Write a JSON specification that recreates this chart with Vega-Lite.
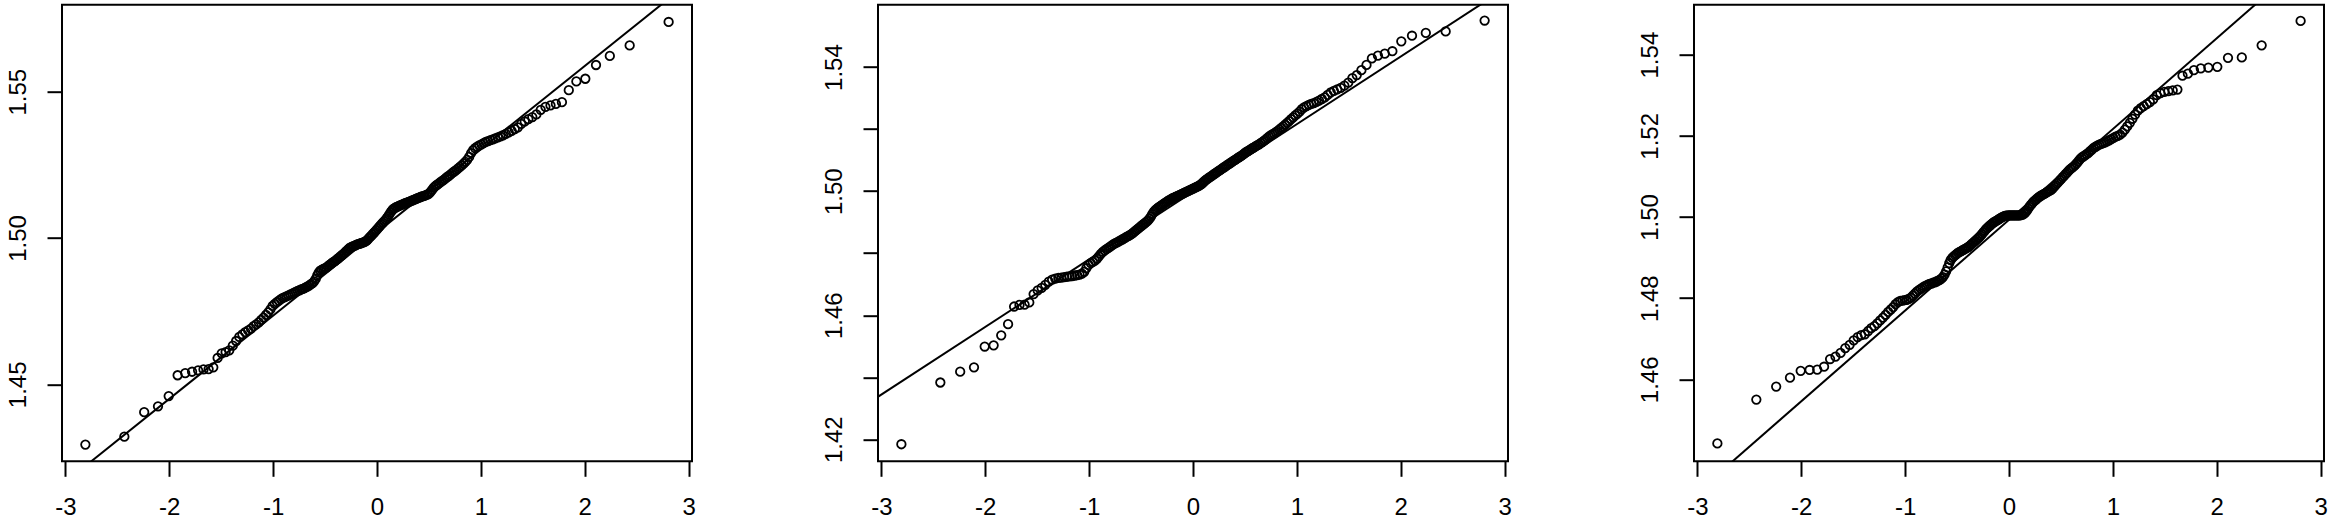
{
"$schema":"https://vega.github.io/schema/vega-lite/v6.json",
"background":"white",
"padding":{"left":5,"top":3.7,"right":0,"bottom":0},
"spacing":186,
"bounds":"flush",
"config":{
"view":{"stroke":"black","strokeWidth":2},
"axis":{"grid":false,"domain":false,"ticks":true,"tickColor":"black","tickWidth":2,"tickSize":15,"labelFont":"Liberation Sans","labelFontSize":24,"labelColor":"black","labelOverlap":false,"labelFlush":false,"labelBound":false,"title":null}
},
"datasets":{
"la":[{"x":-3.2,"y":1.4109},{"x":3.2,"y":1.5929}],
"lb":[{"x":-3.2,"y":1.43004},{"x":3.2,"y":1.56956}],
"lc":[{"x":-3.2,"y":1.42772},{"x":3.2,"y":1.57088}],
"a":[
{"x":-2.807,"y":1.4294},{"x":-2.432,"y":1.4321},{"x":-2.241,"y":1.4405},{"x":-2.108,"y":1.4425},{"x":-2.005,"y":1.4460},{"x":-1.919,"y":1.4531},{"x":-1.846,"y":1.4538},{"x":-1.780,"y":1.4543},{"x":-1.722,"y":1.4548},{"x":-1.670,"y":1.4551},
{"x":-1.621,"y":1.4552},{"x":-1.576,"y":1.4558},{"x":-1.534,"y":1.4590},{"x":-1.495,"y":1.4606},{"x":-1.457,"y":1.4610},{"x":-1.422,"y":1.4616},{"x":-1.388,"y":1.4632},{"x":-1.356,"y":1.4648},{"x":-1.326,"y":1.4662},{"x":-1.296,"y":1.4671},
{"x":-1.268,"y":1.4678},{"x":-1.240,"y":1.4684},{"x":-1.213,"y":1.4690},{"x":-1.188,"y":1.4699},{"x":-1.163,"y":1.4705},{"x":-1.138,"y":1.4712},{"x":-1.115,"y":1.4720},{"x":-1.092,"y":1.4728},{"x":-1.069,"y":1.4737},{"x":-1.047,"y":1.4746},
{"x":-1.026,"y":1.4756},{"x":-1.005,"y":1.4768},{"x":-0.984,"y":1.4775},{"x":-0.964,"y":1.4781},{"x":-0.944,"y":1.4786},{"x":-0.925,"y":1.4791},{"x":-0.906,"y":1.4795},{"x":-0.887,"y":1.4798},{"x":-0.868,"y":1.4801},{"x":-0.850,"y":1.4804},
{"x":-0.833,"y":1.4807},{"x":-0.815,"y":1.4810},{"x":-0.798,"y":1.4813},{"x":-0.781,"y":1.4816},{"x":-0.764,"y":1.4819},{"x":-0.747,"y":1.4821},{"x":-0.731,"y":1.4824},{"x":-0.714,"y":1.4826},{"x":-0.698,"y":1.4829},{"x":-0.682,"y":1.4832},
{"x":-0.667,"y":1.4835},{"x":-0.651,"y":1.4838},{"x":-0.636,"y":1.4842},{"x":-0.620,"y":1.4846},{"x":-0.605,"y":1.4852},{"x":-0.590,"y":1.4860},{"x":-0.575,"y":1.4872},{"x":-0.561,"y":1.4882},{"x":-0.546,"y":1.4888},{"x":-0.532,"y":1.4891},
{"x":-0.517,"y":1.4894},{"x":-0.503,"y":1.4896},{"x":-0.489,"y":1.4899},{"x":-0.474,"y":1.4903},{"x":-0.460,"y":1.4907},{"x":-0.446,"y":1.4911},{"x":-0.432,"y":1.4915},{"x":-0.419,"y":1.4918},{"x":-0.405,"y":1.4921},{"x":-0.392,"y":1.4925},
{"x":-0.378,"y":1.4929},{"x":-0.365,"y":1.4933},{"x":-0.352,"y":1.4937},{"x":-0.338,"y":1.4941},{"x":-0.325,"y":1.4945},{"x":-0.312,"y":1.4949},{"x":-0.299,"y":1.4954},{"x":-0.286,"y":1.4958},{"x":-0.273,"y":1.4963},{"x":-0.260,"y":1.4967},
{"x":-0.247,"y":1.4969},{"x":-0.234,"y":1.4971},{"x":-0.221,"y":1.4973},{"x":-0.208,"y":1.4975},{"x":-0.196,"y":1.4977},{"x":-0.183,"y":1.4979},{"x":-0.170,"y":1.4980},{"x":-0.157,"y":1.4982},{"x":-0.145,"y":1.4983},{"x":-0.132,"y":1.4985},
{"x":-0.119,"y":1.4987},{"x":-0.107,"y":1.4989},{"x":-0.094,"y":1.4993},{"x":-0.082,"y":1.4998},{"x":-0.069,"y":1.5003},{"x":-0.056,"y":1.5007},{"x":-0.044,"y":1.5012},{"x":-0.031,"y":1.5017},{"x":-0.019,"y":1.5022},{"x":-0.006,"y":1.5027},
{"x":0.006,"y":1.5032},{"x":0.019,"y":1.5037},{"x":0.031,"y":1.5042},{"x":0.044,"y":1.5047},{"x":0.056,"y":1.5052},{"x":0.069,"y":1.5057},{"x":0.082,"y":1.5062},{"x":0.094,"y":1.5068},{"x":0.107,"y":1.5074},{"x":0.119,"y":1.5081},
{"x":0.132,"y":1.5088},{"x":0.145,"y":1.5094},{"x":0.157,"y":1.5099},{"x":0.170,"y":1.5102},{"x":0.183,"y":1.5105},{"x":0.196,"y":1.5107},{"x":0.208,"y":1.5109},{"x":0.221,"y":1.5111},{"x":0.234,"y":1.5113},{"x":0.247,"y":1.5115},
{"x":0.260,"y":1.5117},{"x":0.273,"y":1.5119},{"x":0.286,"y":1.5121},{"x":0.299,"y":1.5122},{"x":0.312,"y":1.5124},{"x":0.325,"y":1.5126},{"x":0.338,"y":1.5128},{"x":0.352,"y":1.5130},{"x":0.365,"y":1.5132},{"x":0.378,"y":1.5134},
{"x":0.392,"y":1.5136},{"x":0.405,"y":1.5138},{"x":0.419,"y":1.5140},{"x":0.432,"y":1.5142},{"x":0.446,"y":1.5143},{"x":0.460,"y":1.5145},{"x":0.474,"y":1.5147},{"x":0.489,"y":1.5149},{"x":0.503,"y":1.5152},{"x":0.517,"y":1.5158},
{"x":0.532,"y":1.5165},{"x":0.546,"y":1.5172},{"x":0.561,"y":1.5177},{"x":0.575,"y":1.5181},{"x":0.590,"y":1.5185},{"x":0.605,"y":1.5189},{"x":0.620,"y":1.5193},{"x":0.636,"y":1.5197},{"x":0.651,"y":1.5201},{"x":0.667,"y":1.5206},
{"x":0.682,"y":1.5210},{"x":0.698,"y":1.5214},{"x":0.714,"y":1.5219},{"x":0.731,"y":1.5224},{"x":0.747,"y":1.5228},{"x":0.764,"y":1.5233},{"x":0.781,"y":1.5238},{"x":0.798,"y":1.5243},{"x":0.815,"y":1.5248},{"x":0.833,"y":1.5254},
{"x":0.850,"y":1.5260},{"x":0.868,"y":1.5267},{"x":0.887,"y":1.5277},{"x":0.906,"y":1.5290},{"x":0.925,"y":1.5300},{"x":0.944,"y":1.5307},{"x":0.964,"y":1.5312},{"x":0.984,"y":1.5316},{"x":1.005,"y":1.5320},{"x":1.026,"y":1.5324},
{"x":1.047,"y":1.5328},{"x":1.069,"y":1.5331},{"x":1.092,"y":1.5334},{"x":1.115,"y":1.5337},{"x":1.138,"y":1.5340},{"x":1.163,"y":1.5344},{"x":1.188,"y":1.5347},{"x":1.213,"y":1.5351},{"x":1.240,"y":1.5356},{"x":1.268,"y":1.5361},
{"x":1.296,"y":1.5366},{"x":1.326,"y":1.5372},{"x":1.356,"y":1.5378},{"x":1.388,"y":1.5390},{"x":1.422,"y":1.5398},{"x":1.457,"y":1.5406},{"x":1.495,"y":1.5413},{"x":1.534,"y":1.5422},{"x":1.576,"y":1.5438},{"x":1.621,"y":1.5448},
{"x":1.670,"y":1.5453},{"x":1.722,"y":1.5458},{"x":1.780,"y":1.5464},{"x":1.846,"y":1.5505},{"x":1.919,"y":1.5535},{"x":2.005,"y":1.5544},{"x":2.108,"y":1.5591},{"x":2.241,"y":1.5622},{"x":2.432,"y":1.5658},{"x":2.807,"y":1.5738}
],
"b":[
{"x":-2.807,"y":1.4184},{"x":-2.432,"y":1.4383},{"x":-2.241,"y":1.4418},{"x":-2.108,"y":1.4432},{"x":-2.005,"y":1.4499},{"x":-1.919,"y":1.4503},{"x":-1.846,"y":1.4535},{"x":-1.780,"y":1.4571},{"x":-1.722,"y":1.4628},{"x":-1.670,"y":1.4633},
{"x":-1.621,"y":1.4634},{"x":-1.576,"y":1.4641},{"x":-1.534,"y":1.4668},{"x":-1.495,"y":1.4680},{"x":-1.457,"y":1.4688},{"x":-1.422,"y":1.4698},{"x":-1.388,"y":1.4708},{"x":-1.356,"y":1.4715},{"x":-1.326,"y":1.4718},{"x":-1.296,"y":1.4720},
{"x":-1.268,"y":1.4721},{"x":-1.240,"y":1.4723},{"x":-1.213,"y":1.4724},{"x":-1.188,"y":1.4725},{"x":-1.163,"y":1.4726},{"x":-1.138,"y":1.4728},{"x":-1.115,"y":1.4729},{"x":-1.092,"y":1.4731},{"x":-1.069,"y":1.4734},{"x":-1.047,"y":1.4740},
{"x":-1.026,"y":1.4752},{"x":-1.005,"y":1.4762},{"x":-0.984,"y":1.4768},{"x":-0.964,"y":1.4772},{"x":-0.944,"y":1.4776},{"x":-0.925,"y":1.4782},{"x":-0.906,"y":1.4790},{"x":-0.887,"y":1.4798},{"x":-0.868,"y":1.4804},{"x":-0.850,"y":1.4809},
{"x":-0.833,"y":1.4813},{"x":-0.815,"y":1.4817},{"x":-0.798,"y":1.4821},{"x":-0.781,"y":1.4825},{"x":-0.764,"y":1.4829},{"x":-0.747,"y":1.4832},{"x":-0.731,"y":1.4835},{"x":-0.714,"y":1.4838},{"x":-0.698,"y":1.4841},{"x":-0.682,"y":1.4844},
{"x":-0.667,"y":1.4847},{"x":-0.651,"y":1.4850},{"x":-0.636,"y":1.4853},{"x":-0.620,"y":1.4856},{"x":-0.605,"y":1.4859},{"x":-0.590,"y":1.4862},{"x":-0.575,"y":1.4866},{"x":-0.561,"y":1.4870},{"x":-0.546,"y":1.4874},{"x":-0.532,"y":1.4878},
{"x":-0.517,"y":1.4882},{"x":-0.503,"y":1.4886},{"x":-0.489,"y":1.4890},{"x":-0.474,"y":1.4894},{"x":-0.460,"y":1.4898},{"x":-0.446,"y":1.4902},{"x":-0.432,"y":1.4906},{"x":-0.419,"y":1.4911},{"x":-0.405,"y":1.4918},{"x":-0.392,"y":1.4926},
{"x":-0.378,"y":1.4933},{"x":-0.365,"y":1.4938},{"x":-0.352,"y":1.4942},{"x":-0.338,"y":1.4946},{"x":-0.325,"y":1.4949},{"x":-0.312,"y":1.4952},{"x":-0.299,"y":1.4955},{"x":-0.286,"y":1.4958},{"x":-0.273,"y":1.4961},{"x":-0.260,"y":1.4964},
{"x":-0.247,"y":1.4967},{"x":-0.234,"y":1.4970},{"x":-0.221,"y":1.4972},{"x":-0.208,"y":1.4975},{"x":-0.196,"y":1.4977},{"x":-0.183,"y":1.4979},{"x":-0.170,"y":1.4981},{"x":-0.157,"y":1.4983},{"x":-0.145,"y":1.4985},{"x":-0.132,"y":1.4987},
{"x":-0.119,"y":1.4989},{"x":-0.107,"y":1.4991},{"x":-0.094,"y":1.4993},{"x":-0.082,"y":1.4995},{"x":-0.069,"y":1.4997},{"x":-0.056,"y":1.4999},{"x":-0.044,"y":1.5001},{"x":-0.031,"y":1.5003},{"x":-0.019,"y":1.5005},{"x":-0.006,"y":1.5007},
{"x":0.006,"y":1.5009},{"x":0.019,"y":1.5011},{"x":0.031,"y":1.5013},{"x":0.044,"y":1.5015},{"x":0.056,"y":1.5017},{"x":0.069,"y":1.5020},{"x":0.082,"y":1.5023},{"x":0.094,"y":1.5027},{"x":0.107,"y":1.5031},{"x":0.119,"y":1.5035},
{"x":0.132,"y":1.5038},{"x":0.145,"y":1.5041},{"x":0.157,"y":1.5044},{"x":0.170,"y":1.5047},{"x":0.183,"y":1.5050},{"x":0.196,"y":1.5053},{"x":0.208,"y":1.5056},{"x":0.221,"y":1.5059},{"x":0.234,"y":1.5062},{"x":0.247,"y":1.5065},
{"x":0.260,"y":1.5068},{"x":0.273,"y":1.5071},{"x":0.286,"y":1.5074},{"x":0.299,"y":1.5077},{"x":0.312,"y":1.5080},{"x":0.325,"y":1.5083},{"x":0.338,"y":1.5086},{"x":0.352,"y":1.5089},{"x":0.365,"y":1.5092},{"x":0.378,"y":1.5095},
{"x":0.392,"y":1.5098},{"x":0.405,"y":1.5101},{"x":0.419,"y":1.5104},{"x":0.432,"y":1.5107},{"x":0.446,"y":1.5110},{"x":0.460,"y":1.5113},{"x":0.474,"y":1.5116},{"x":0.489,"y":1.5120},{"x":0.503,"y":1.5124},{"x":0.517,"y":1.5127},
{"x":0.532,"y":1.5130},{"x":0.546,"y":1.5133},{"x":0.561,"y":1.5136},{"x":0.575,"y":1.5139},{"x":0.590,"y":1.5142},{"x":0.605,"y":1.5145},{"x":0.620,"y":1.5148},{"x":0.636,"y":1.5151},{"x":0.651,"y":1.5155},{"x":0.667,"y":1.5158},
{"x":0.682,"y":1.5162},{"x":0.698,"y":1.5166},{"x":0.714,"y":1.5171},{"x":0.731,"y":1.5176},{"x":0.747,"y":1.5180},{"x":0.764,"y":1.5183},{"x":0.781,"y":1.5186},{"x":0.798,"y":1.5190},{"x":0.815,"y":1.5194},{"x":0.833,"y":1.5199},
{"x":0.850,"y":1.5204},{"x":0.868,"y":1.5209},{"x":0.887,"y":1.5214},{"x":0.906,"y":1.5220},{"x":0.925,"y":1.5226},{"x":0.944,"y":1.5232},{"x":0.964,"y":1.5238},{"x":0.984,"y":1.5244},{"x":1.005,"y":1.5250},{"x":1.026,"y":1.5256},
{"x":1.047,"y":1.5264},{"x":1.069,"y":1.5270},{"x":1.092,"y":1.5274},{"x":1.115,"y":1.5278},{"x":1.138,"y":1.5281},{"x":1.163,"y":1.5284},{"x":1.188,"y":1.5288},{"x":1.213,"y":1.5292},{"x":1.240,"y":1.5297},{"x":1.268,"y":1.5302},
{"x":1.296,"y":1.5310},{"x":1.326,"y":1.5318},{"x":1.356,"y":1.5323},{"x":1.388,"y":1.5328},{"x":1.422,"y":1.5333},{"x":1.457,"y":1.5340},{"x":1.495,"y":1.5350},{"x":1.534,"y":1.5364},{"x":1.576,"y":1.5374},{"x":1.621,"y":1.5390},
{"x":1.670,"y":1.5407},{"x":1.722,"y":1.5428},{"x":1.780,"y":1.5437},{"x":1.846,"y":1.5443},{"x":1.919,"y":1.5451},{"x":2.005,"y":1.5483},{"x":2.108,"y":1.5501},{"x":2.241,"y":1.5510},{"x":2.432,"y":1.5515},{"x":2.807,"y":1.5550}
],
"c":[
{"x":-2.807,"y":1.4442},{"x":-2.432,"y":1.4550},{"x":-2.241,"y":1.4582},{"x":-2.108,"y":1.4604},{"x":-2.005,"y":1.4621},{"x":-1.919,"y":1.4623},{"x":-1.846,"y":1.4624},{"x":-1.780,"y":1.4631},{"x":-1.722,"y":1.4650},{"x":-1.670,"y":1.4656},
{"x":-1.621,"y":1.4665},{"x":-1.576,"y":1.4677},{"x":-1.534,"y":1.4685},{"x":-1.495,"y":1.4696},{"x":-1.457,"y":1.4704},{"x":-1.422,"y":1.4709},{"x":-1.388,"y":1.4711},{"x":-1.356,"y":1.4719},{"x":-1.326,"y":1.4726},{"x":-1.296,"y":1.4731},
{"x":-1.268,"y":1.4738},{"x":-1.240,"y":1.4745},{"x":-1.213,"y":1.4752},{"x":-1.188,"y":1.4759},{"x":-1.163,"y":1.4766},{"x":-1.138,"y":1.4772},{"x":-1.115,"y":1.4778},{"x":-1.092,"y":1.4785},{"x":-1.069,"y":1.4790},{"x":-1.047,"y":1.4793},
{"x":-1.026,"y":1.4794},{"x":-1.005,"y":1.4795},{"x":-0.984,"y":1.4796},{"x":-0.964,"y":1.4798},{"x":-0.944,"y":1.4801},{"x":-0.925,"y":1.4806},{"x":-0.906,"y":1.4811},{"x":-0.887,"y":1.4816},{"x":-0.868,"y":1.4820},{"x":-0.850,"y":1.4823},
{"x":-0.833,"y":1.4826},{"x":-0.815,"y":1.4829},{"x":-0.798,"y":1.4831},{"x":-0.781,"y":1.4833},{"x":-0.764,"y":1.4835},{"x":-0.747,"y":1.4836},{"x":-0.731,"y":1.4838},{"x":-0.714,"y":1.4839},{"x":-0.698,"y":1.4841},{"x":-0.682,"y":1.4843},
{"x":-0.667,"y":1.4845},{"x":-0.651,"y":1.4848},{"x":-0.636,"y":1.4852},{"x":-0.620,"y":1.4858},{"x":-0.605,"y":1.4866},{"x":-0.590,"y":1.4876},{"x":-0.575,"y":1.4886},{"x":-0.561,"y":1.4894},{"x":-0.546,"y":1.4899},{"x":-0.532,"y":1.4903},
{"x":-0.517,"y":1.4906},{"x":-0.503,"y":1.4909},{"x":-0.489,"y":1.4912},{"x":-0.474,"y":1.4914},{"x":-0.460,"y":1.4916},{"x":-0.446,"y":1.4918},{"x":-0.432,"y":1.4920},{"x":-0.419,"y":1.4922},{"x":-0.405,"y":1.4924},{"x":-0.392,"y":1.4926},
{"x":-0.378,"y":1.4929},{"x":-0.365,"y":1.4932},{"x":-0.352,"y":1.4935},{"x":-0.338,"y":1.4938},{"x":-0.325,"y":1.4941},{"x":-0.312,"y":1.4944},{"x":-0.299,"y":1.4947},{"x":-0.286,"y":1.4950},{"x":-0.273,"y":1.4954},{"x":-0.260,"y":1.4958},
{"x":-0.247,"y":1.4962},{"x":-0.234,"y":1.4966},{"x":-0.221,"y":1.4970},{"x":-0.208,"y":1.4973},{"x":-0.196,"y":1.4976},{"x":-0.183,"y":1.4979},{"x":-0.170,"y":1.4982},{"x":-0.157,"y":1.4985},{"x":-0.145,"y":1.4987},{"x":-0.132,"y":1.4989},
{"x":-0.119,"y":1.4991},{"x":-0.107,"y":1.4993},{"x":-0.094,"y":1.4995},{"x":-0.082,"y":1.4997},{"x":-0.069,"y":1.4999},{"x":-0.056,"y":1.5001},{"x":-0.044,"y":1.5002},{"x":-0.031,"y":1.5003},{"x":-0.019,"y":1.5003},{"x":-0.006,"y":1.5004},
{"x":0.006,"y":1.5004},{"x":0.019,"y":1.5004},{"x":0.031,"y":1.5004},{"x":0.044,"y":1.5004},{"x":0.056,"y":1.5004},{"x":0.069,"y":1.5004},{"x":0.082,"y":1.5004},{"x":0.094,"y":1.5004},{"x":0.107,"y":1.5004},{"x":0.119,"y":1.5005},
{"x":0.132,"y":1.5006},{"x":0.145,"y":1.5008},{"x":0.157,"y":1.5011},{"x":0.170,"y":1.5015},{"x":0.183,"y":1.5020},{"x":0.196,"y":1.5025},{"x":0.208,"y":1.5029},{"x":0.221,"y":1.5033},{"x":0.234,"y":1.5037},{"x":0.247,"y":1.5040},
{"x":0.260,"y":1.5043},{"x":0.273,"y":1.5046},{"x":0.286,"y":1.5049},{"x":0.299,"y":1.5051},{"x":0.312,"y":1.5053},{"x":0.325,"y":1.5055},{"x":0.338,"y":1.5057},{"x":0.352,"y":1.5059},{"x":0.365,"y":1.5061},{"x":0.378,"y":1.5063},
{"x":0.392,"y":1.5065},{"x":0.405,"y":1.5067},{"x":0.419,"y":1.5070},{"x":0.432,"y":1.5074},{"x":0.446,"y":1.5078},{"x":0.460,"y":1.5082},{"x":0.474,"y":1.5086},{"x":0.489,"y":1.5090},{"x":0.503,"y":1.5094},{"x":0.517,"y":1.5098},
{"x":0.532,"y":1.5102},{"x":0.546,"y":1.5106},{"x":0.561,"y":1.5110},{"x":0.575,"y":1.5114},{"x":0.590,"y":1.5118},{"x":0.605,"y":1.5121},{"x":0.620,"y":1.5124},{"x":0.636,"y":1.5128},{"x":0.651,"y":1.5132},{"x":0.667,"y":1.5137},
{"x":0.682,"y":1.5142},{"x":0.698,"y":1.5146},{"x":0.714,"y":1.5149},{"x":0.731,"y":1.5152},{"x":0.747,"y":1.5155},{"x":0.764,"y":1.5158},{"x":0.781,"y":1.5162},{"x":0.798,"y":1.5166},{"x":0.815,"y":1.5170},{"x":0.833,"y":1.5173},
{"x":0.850,"y":1.5176},{"x":0.868,"y":1.5178},{"x":0.887,"y":1.5180},{"x":0.906,"y":1.5182},{"x":0.925,"y":1.5184},{"x":0.944,"y":1.5186},{"x":0.964,"y":1.5189},{"x":0.984,"y":1.5192},{"x":1.005,"y":1.5195},{"x":1.026,"y":1.5198},
{"x":1.047,"y":1.5200},{"x":1.069,"y":1.5203},{"x":1.092,"y":1.5208},{"x":1.115,"y":1.5215},{"x":1.138,"y":1.5223},{"x":1.163,"y":1.5232},{"x":1.188,"y":1.5242},{"x":1.213,"y":1.5252},{"x":1.240,"y":1.5262},{"x":1.268,"y":1.5268},
{"x":1.296,"y":1.5273},{"x":1.326,"y":1.5278},{"x":1.356,"y":1.5283},{"x":1.388,"y":1.5290},{"x":1.422,"y":1.5300},{"x":1.457,"y":1.5305},{"x":1.495,"y":1.5308},{"x":1.534,"y":1.5310},{"x":1.576,"y":1.5312},{"x":1.621,"y":1.5314},
{"x":1.670,"y":1.5348},{"x":1.722,"y":1.5353},{"x":1.780,"y":1.5362},{"x":1.846,"y":1.5366},{"x":1.919,"y":1.5368},{"x":2.005,"y":1.5370},{"x":2.108,"y":1.5392},{"x":2.241,"y":1.5393},{"x":2.432,"y":1.5423},{"x":2.807,"y":1.5483}
]
},
"hconcat":[
{
"width":630,"height":456.6,
"encoding":{
"x":{"field":"x","type":"quantitative","scale":{"domain":[-3.032,3.032],"nice":false,"zero":false},"axis":{"values":[-3,-2,-1,0,1,2,3],"labelExpr":"'' + datum.value","labelPadding":19}},
"y":{"field":"y","type":"quantitative","scale":{"domain":[1.4237,1.5797],"nice":false,"zero":false},"axis":{"values":[1.45,1.5,1.55],"format":".2f","labelAngle":-90,"labelAlign":"center","labelBaseline":"bottom","labelPadding":16.5}}
},
"layer":[
{"data":{"name":"a"},"mark":{"type":"point","shape":"circle","filled":false,"size":72,"strokeWidth":1.8,"color":"black","opacity":1}},
{"data":{"name":"la"},"mark":{"type":"line","clip":true,"color":"black","strokeWidth":2}}
]
},
{
"width":630,"height":456.6,
"encoding":{
"x":{"field":"x","type":"quantitative","scale":{"domain":[-3.032,3.032],"nice":false,"zero":false},"axis":{"values":[-3,-2,-1,0,1,2,3],"labelExpr":"'' + datum.value","labelPadding":19}},
"y":{"field":"y","type":"quantitative","scale":{"domain":[1.4129,1.5601],"nice":false,"zero":false},"axis":{"values":[1.42,1.44,1.46,1.48,1.5,1.52,1.54],"format":".2f","labelExpr":"indexof(['1.42','1.46','1.50','1.54'], datum.label) >= 0 ? datum.label : ''","labelAngle":-90,"labelAlign":"center","labelBaseline":"bottom","labelPadding":16.5}}
},
"layer":[
{"data":{"name":"b"},"mark":{"type":"point","shape":"circle","filled":false,"size":72,"strokeWidth":1.8,"color":"black","opacity":1}},
{"data":{"name":"lb"},"mark":{"type":"line","clip":true,"color":"black","strokeWidth":2}}
]
},
{
"width":630,"height":456.6,
"encoding":{
"x":{"field":"x","type":"quantitative","scale":{"domain":[-3.032,3.032],"nice":false,"zero":false},"axis":{"values":[-3,-2,-1,0,1,2,3],"labelExpr":"'' + datum.value","labelPadding":19}},
"y":{"field":"y","type":"quantitative","scale":{"domain":[1.4398,1.5523],"nice":false,"zero":false},"axis":{"values":[1.46,1.48,1.5,1.52,1.54],"format":".2f","labelAngle":-90,"labelAlign":"center","labelBaseline":"bottom","labelPadding":16.5}}
},
"layer":[
{"data":{"name":"c"},"mark":{"type":"point","shape":"circle","filled":false,"size":72,"strokeWidth":1.8,"color":"black","opacity":1}},
{"data":{"name":"lc"},"mark":{"type":"line","clip":true,"color":"black","strokeWidth":2}}
]
}
]
}
